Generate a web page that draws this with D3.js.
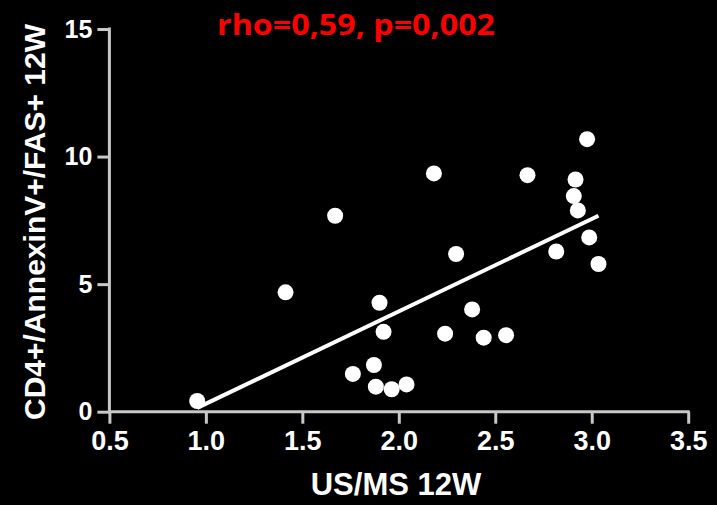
<!DOCTYPE html>
<html><head><meta charset="utf-8">
<script src="https://cdn.jsdelivr.net/npm/d3@7"></script>
<style>
html,body{margin:0;padding:0;background:#000;}
svg{display:block;}
</style></head>
<body>
<svg id="chart" width="717" height="505"></svg>
<script>
const xValues = [0.955, 1.413, 1.670, 2.182, 1.900, 1.921, 1.762, 1.871, 1.881, 1.963, 2.040, 2.240,
                 2.667, 2.976, 2.916, 2.907, 2.928, 2.987, 3.035, 2.816, 2.297, 2.380, 2.440, 2.556];
const yValues = [0.42, 4.68, 7.68, 9.34, 4.27, 3.13, 1.48, 1.83, 0.98, 0.88, 1.07, 3.06,
                 9.27, 10.68, 9.10, 8.45, 7.89, 6.83, 5.79, 6.28, 6.18, 4.01, 2.90, 3.00];
const fitX = [0.955, 3.035];
const fitY = [0.15, 7.68];
const xTicks = [0.5, 1.0, 1.5, 2.0, 2.5, 3.0, 3.5];
const yTicks = [0, 5, 10, 15];
const xTitle = "US/MS 12W";
const yTitle = "CD4+/AnnexinV+/FAS+ 12W";
const statText = "rho=0,59, p=0,002";

const svg = d3.select("#chart");
svg.append("rect").attr("width", 717).attr("height", 505).attr("fill", "#000");

const x = d3.scaleLinear().domain([0.5, 3.5]).range([109.4, 688.2]);
const y = d3.scaleLinear().domain([0, 15]).range([411.7, 29]);

const axisColor = "#c8c8c8";
const fontFam = "'Liberation Sans', Arial, sans-serif";

const xAxis = svg.append("g").attr("transform", `translate(0,${y(0)})`)
  .call(d3.axisBottom(x).tickValues(xTicks).tickFormat(d3.format(".1f")).tickSize(12).tickPadding(7).tickSizeOuter(0));
const yAxis = svg.append("g").attr("transform", `translate(${x(0.5)},0)`)
  .call(d3.axisLeft(y).tickValues(yTicks).tickFormat(d3.format("d")).tickSize(12).tickPadding(5).tickSizeOuter(0));

[xAxis, yAxis].forEach(g => {
  g.select(".domain").attr("stroke", axisColor).attr("stroke-width", 3);
  g.selectAll(".tick line").attr("stroke", axisColor).attr("stroke-width", 3);
  g.selectAll(".tick text").attr("fill", "#fff").attr("font-family", fontFam)
    .attr("font-weight", "bold");
});
xAxis.selectAll(".tick text").attr("font-size", 27);
yAxis.selectAll(".tick text").attr("font-size", 25);
xAxis.select(".domain").attr("d", `M${x(0.5)-1.5},0H${x(3.5)+1.5}`);
yAxis.select(".domain").attr("d", `M0,${y(15)-1.5}V${y(0)+1.5}`);

// regression line
svg.append("line")
  .attr("x1", x(fitX[0])).attr("y1", y(fitY[0]))
  .attr("x2", x(fitX[1])).attr("y2", y(fitY[1]))
  .attr("stroke", "#fff").attr("stroke-width", 4);

// points
svg.append("g").selectAll("circle").data(xValues.map((v, i) => [v, yValues[i]]))
  .join("circle")
  .attr("cx", d => x(d[0])).attr("cy", d => y(d[1])).attr("r", 8)
  .attr("fill", "#fff");

// axis titles
svg.append("text").attr("x", 396).attr("y", 495)
  .attr("text-anchor", "middle").attr("fill", "#fff").attr("font-family", fontFam)
  .attr("font-weight", "bold").attr("font-size", 31).text(xTitle);

svg.append("text").attr("transform", `translate(45,222) rotate(-90)`)
  .attr("text-anchor", "middle").attr("fill", "#fff").attr("font-family", fontFam)
  .attr("font-weight", "bold").attr("font-size", 30).text(yTitle);

// stat text
svg.append("text").attr("x", 217).attr("y", 35)
  .attr("fill", "#ff0000").attr("font-family", "'Open Sans', sans-serif")
  .attr("font-weight", "bold").attr("font-size", 29)
  .attr("textLength", 278).attr("lengthAdjust", "spacingAndGlyphs").text(statText);
</script>
</body></html>
